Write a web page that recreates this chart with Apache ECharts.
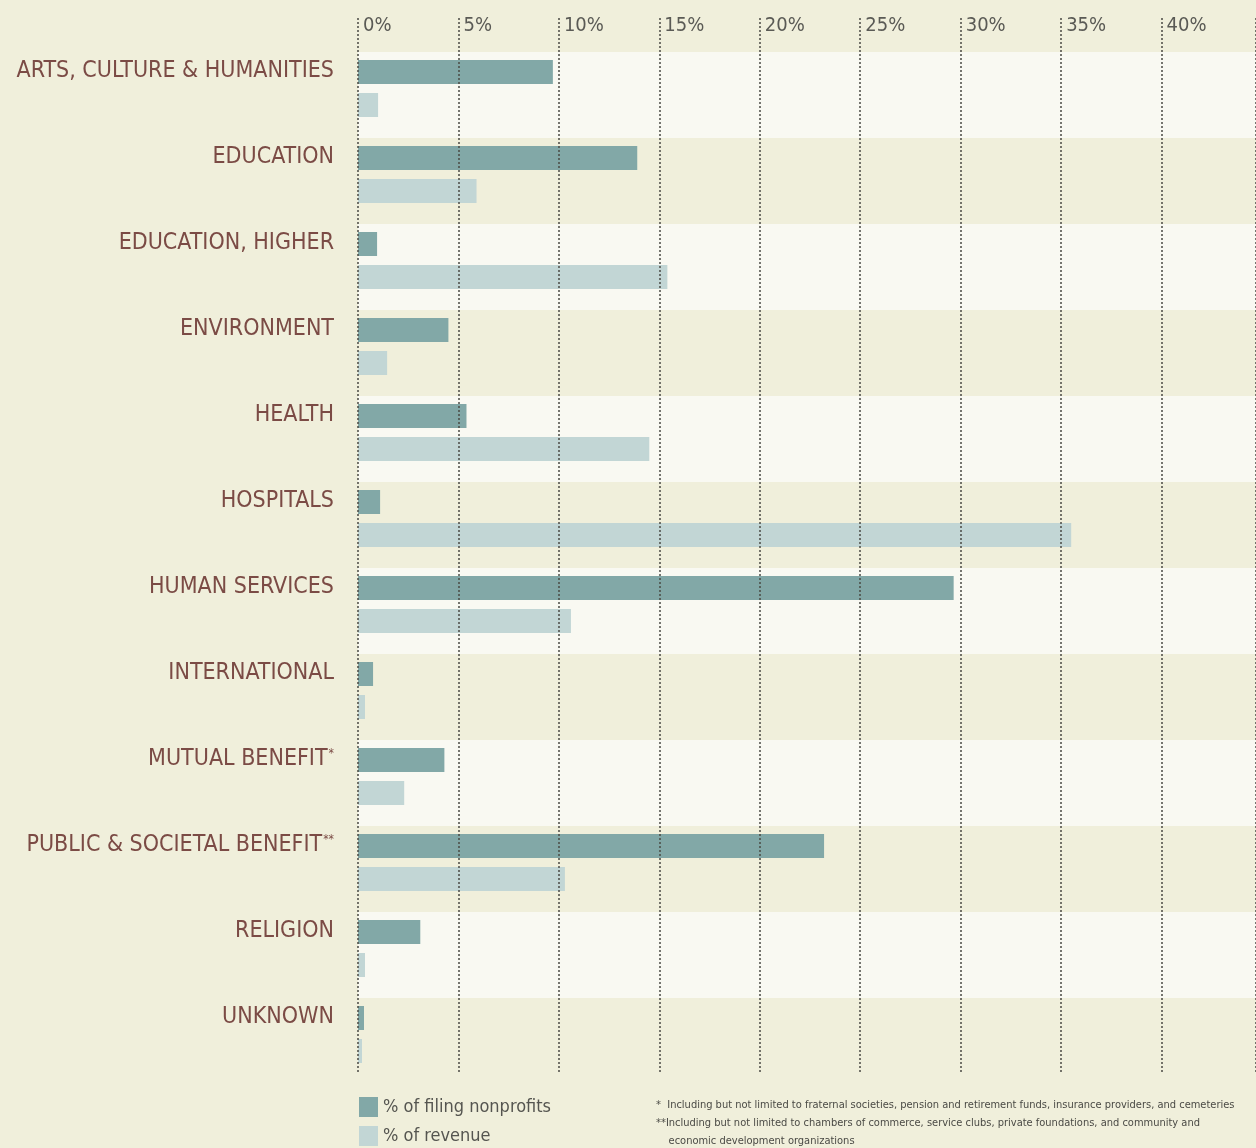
<!DOCTYPE html>
<html>
<head>
<meta charset="utf-8">
<script src="https://cdn.jsdelivr.net/npm/echarts@6/dist/echarts.min.js"></script>
<style>
  html, body { margin: 0; padding: 0; background: #f0efdb; }
  #chart { width: 1256px; height: 1148px; }
</style>
</head>
<body>
<div id="chart"></div>
<script>
// categories, top to bottom
var categories = [
    'ARTS, CULTURE & HUMANITIES', 'EDUCATION', 'EDUCATION, HIGHER', 'ENVIRONMENT',
    'HEALTH', 'HOSPITALS', 'HUMAN SERVICES', 'INTERNATIONAL',
    'MUTUAL BENEFIT*', 'PUBLIC & SOCIETAL BENEFIT**', 'RELIGION', 'UNKNOWN'
];
// % of filing nonprofits
var filingPct = [9.7, 13.9, 0.95, 4.5, 5.4, 1.1, 29.65, 0.75, 4.3, 23.2, 3.1, 0.3];
// % of revenue
var revenuePct = [1.0, 5.9, 15.4, 1.45, 14.5, 35.5, 10.6, 0.35, 2.3, 10.3, 0.35, 0.2];
var xTicks = [0, 5, 10, 15, 20, 25, 30, 35, 40];
var legendNames = ['% of filing nonprofits', '% of revenue'];
var footnotes = [
    '*  Including but not limited to fraternal societies, pension and retirement funds, insurance providers, and cemeteries',
    '**Including but not limited to chambers of commerce, service clubs, private foundations, and community and',
    '    economic development organizations'
];

var FONT = "'Liberation Sans Narrow', 'DejaVu Sans Condensed', sans-serif";
var X_MAX = 44.7;

var chart = echarts.init(document.getElementById('chart'));

function catLabel(v){
    // superscript asterisks
    var m = v.match(/^(.*?)(\*+)$/);
    if(m){
        return '{a|' + m[1] + '}{s|' + m[2] + '}';
    }
    return '{a|' + v + '}';
}

var option = {
    backgroundColor: '#f0efdb',
    animation: false,
    grid: [
        // bars
        {left: 358, right: 0, top: 45.5, height: 1032, outerBoundsMode: 'none', containLabel: false},
        // row bands
        {left: 358, right: 0, top: 52, height: 1032, outerBoundsMode: 'none', containLabel: false},
        // dotted lines + tick labels
        {left: 358, right: 0, top: 18, bottom: 75, outerBoundsMode: 'none', containLabel: false}
    ],
    xAxis: [
        {gridIndex: 0, type: 'value', min: 0, max: X_MAX, show: false},
        {gridIndex: 1, type: 'value', min: 0, max: X_MAX, show: false},
        {
            gridIndex: 2, type: 'value', min: 0, max: X_MAX, interval: 5,
            position: 'top', z: 10,
            axisLine: {show: false},
            axisTick: {show: false},
            splitLine: {
                show: true,
                lineStyle: {color: '#4a4a44', width: 1.5, type: [2, 2]}
            },
            axisLabel: {
                inside: true,
                showMaxLabel: false,
                margin: -2,
                align: 'left',
                verticalAlign: 'top',
                padding: [0, 0, 0, 5],
                color: '#5a5a55',
                fontFamily: FONT,
                fontSize: 20,
                formatter: function(v){
                    return xTicks.indexOf(v) >= 0 ? v + '%' : '';
                }
            }
        }
    ],
    yAxis: [
        {
            gridIndex: 0, type: 'category', inverse: true, data: categories,
            axisLine: {show: false},
            axisTick: {show: false},
            axisLabel: {
                margin: 24,
                padding: [0, 0, 34, 0],
                formatter: catLabel,
                rich: {
                    a: {color: '#7b4b45', fontFamily: FONT, fontSize: 23},
                    s: {color: '#7b4b45', fontFamily: FONT, fontSize: 12, verticalAlign: 'top', padding: [0, 0, 10, 1]}
                }
            }
        },
        {
            gridIndex: 1, type: 'category', inverse: true, data: categories,
            axisLine: {show: false},
            axisTick: {show: false},
            axisLabel: {show: false},
            splitArea: {
                show: true,
                areaStyle: {color: ['#f9f9f2', '#f0efdb']}
            }
        },
        {gridIndex: 2, type: 'value', show: false}
    ],
    legend: {
        data: legendNames,
        orient: 'vertical',
        left: 359,
        top: 1097,
        height: 60,
        padding: 0,
        itemWidth: 19,
        itemHeight: 20,
        itemGap: 9,
        icon: 'rect',
        textStyle: {color: '#555550', fontFamily: FONT, fontSize: 18, lineHeight: 20}
    },
    series: [
        {
            name: legendNames[0],
            type: 'bar',
            xAxisIndex: 0, yAxisIndex: 0,
            barWidth: 24,
            barGap: '37.5%',
            itemStyle: {color: '#82a8a7'},
            data: filingPct
        },
        {
            name: legendNames[1],
            type: 'bar',
            xAxisIndex: 0, yAxisIndex: 0,
            barWidth: 24,
            itemStyle: {color: '#c2d6d5'},
            data: revenuePct
        }
    ],
    graphic: [{
        type: 'text',
        left: 656,
        top: 1096,
        style: {
            text: footnotes.join('\n'),
            fill: '#4a4a45',
            font: '11px ' + FONT,
            lineHeight: 18
        }
    }]
};
chart.setOption(option);
</script>
</body>
</html>
